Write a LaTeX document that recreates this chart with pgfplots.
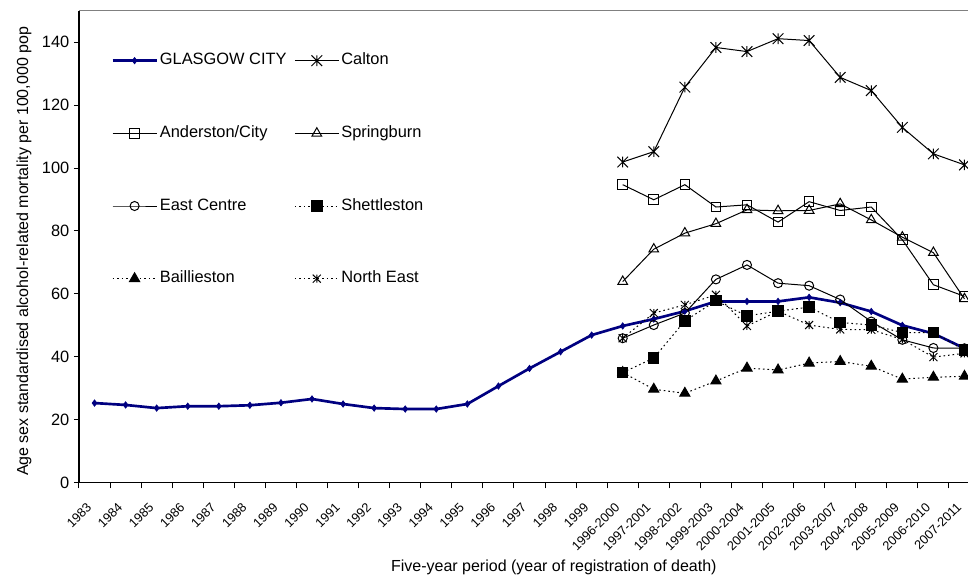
\documentclass[border=0pt]{standalone}
\usepackage{fontspec}
\setmainfont{Liberation Sans}
\usepackage{pgfplots}
\pgfplotsset{compat=1.18}
\definecolor{glasblue}{RGB}{0,0,128}
\pgfdeclareplotmark{xstar}{%
  \pgfpathmoveto{\pgfqpoint{0pt}{\pgfplotmarksize}}%
  \pgfpathlineto{\pgfqpoint{0pt}{-\pgfplotmarksize}}%
  \pgfpathmoveto{\pgfqpoint{-\pgfplotmarksize}{-\pgfplotmarksize}}%
  \pgfpathlineto{\pgfqpoint{\pgfplotmarksize}{\pgfplotmarksize}}%
  \pgfpathmoveto{\pgfqpoint{-\pgfplotmarksize}{\pgfplotmarksize}}%
  \pgfpathlineto{\pgfqpoint{\pgfplotmarksize}{-\pgfplotmarksize}}%
  \pgfusepathqstroke}
\begin{document}
\begin{tikzpicture}
\begin{axis}[name=ax,
  scale only axis, width=675.75pt, height=354pt,
  xmin=-0.5, xmax=28.5, ymin=0, ymax=150,
  axis lines*=left,
  axis line style={-, black, line width=0.75pt},
  tick align=outside,
  major tick length=3.75pt, minor tick length=4.2pt,
  tick style={black, line width=0.75pt},
  xtick={0,...,28},
  xticklabels={1983,1984,1985,1986,1987,1988,1989,1990,1991,1992,1993,1994,1995,1996,1997,1998,1999,1996-2000,1997-2001,1998-2002,1999-2003,2000-2004,2001-2005,2002-2006,2003-2007,2004-2008,2005-2009,2006-2010,2007-2011},
  major x tick style={draw=none},
  minor xtick={-0.5,0.5,...,28.5},
  ytick={0,20,...,140},
  /pgf/number format/assume math mode=true,
  xticklabel style={xshift=-6.5pt, yshift=-9pt, rotate=45, anchor=north east, inner sep=1pt, font=\fontsize{9.6}{11}\selectfont},
  yticklabel style={font=\fontsize{12.3}{14}\selectfont},
  ylabel={Age sex standardised alcohol-related mortality per 100,000 pop},
  ylabel style={font=\fontsize{12}{14}\selectfont, at={(axis description cs:-0.061,0.49)}, anchor=center},
  xlabel={Five-year period (year of registration of death)},
  xlabel style={font=\fontsize{12}{14}\selectfont, at={(axis description cs:0.527,-0.18)}, anchor=center},
  legend columns=2,
  legend cell align=left,
  legend style={draw=none, fill=none, at={(axis description cs:0.0355,0.9144)}, anchor=north west,
    font=\fontsize{12.3}{14}\selectfont, inner sep=0pt, row sep=40.5pt,
    nodes={inner sep=1pt, text height=9pt, text depth=3pt},
    /tikz/every odd column/.append style={column sep=0.5pt},
    /tikz/every even column/.append style={column sep=4.8pt}},
  legend image code/.code={\draw[mark repeat=2,mark phase=2,#1] plot coordinates {(0pt,0pt) (16.5pt,0pt) (33pt,0pt)};},
]
\addplot[glasblue, line width=2pt, mark=diamond*, mark size=2.4pt, mark options={fill=glasblue, line width=0.5pt}] coordinates {
(0,25.3) (1,24.7) (2,23.7) (3,24.3) (4,24.3) (5,24.6) (6,25.4) (7,26.6) (8,25.0) (9,23.7) (10,23.4) (11,23.4) (12,25.0) (13,30.7) (14,36.3) (15,41.6) (16,46.9) (17,49.8) (18,52.0) (19,54.5) (20,57.6) (21,57.6) (22,57.6) (23,58.9) (24,57.2) (25,54.4) (26,50.0) (27,47.4) (28,42.7)};
\addlegendentry{GLASGOW CITY}
\addplot[black, line width=0.75pt, mark=xstar, mark size=4pt] coordinates {
(17,101.9) (18,105.2) (19,125.7) (20,138.3) (21,137.0) (22,141.1) (23,140.5) (24,128.8) (25,124.6) (26,112.9) (27,104.5) (28,101.0)};
\addlegendentry{Calton}
\addplot[black, line width=0.75pt, mark=square, mark size=3.6pt, mark options={fill=white}] coordinates {
(17,94.7) (18,89.9) (19,94.7) (20,87.6) (21,88.3) (22,82.8) (23,89.3) (24,86.5) (25,87.6) (26,77.2) (27,62.9) (28,59.2)};
\addlegendentry{Anderston/City}
\addplot[black, line width=0.75pt, mark=triangle, mark size=4.2pt, mark options={fill=white}] coordinates {
(17,63.9) (18,74.2) (19,79.3) (20,82.3) (21,86.7) (22,86.4) (23,86.5) (24,88.6) (25,83.5) (26,78.0) (27,73.1) (28,58.4)};
\addlegendentry{Springburn}
\addplot[black, line width=0.75pt, mark=o, mark size=3.4pt, mark options={fill=white}] coordinates {
(17,45.9) (18,50.1) (19,53.9) (20,64.6) (21,69.2) (22,63.4) (23,62.6) (24,58.2) (25,51.2) (26,45.4) (27,42.8) (28,42.7)};
\addlegendentry{East Centre}
\addplot[black, line width=0.75pt, dash pattern=on 1.2pt off 2.2pt, mark=square*, mark size=3.9pt, mark options={solid, fill=black}] coordinates {
(17,35.0) (18,39.6) (19,51.4) (20,57.8) (21,53.0) (22,54.5) (23,55.8) (24,50.9) (25,50.1) (26,47.7) (27,47.7) (28,42.1)};
\addlegendentry{Shettleston}
\addplot[black, line width=0.75pt, dash pattern=on 1.2pt off 2.2pt, mark=triangle*, mark size=4.4pt, mark options={solid, fill=black}] coordinates {
(17,35.0) (18,29.7) (19,28.4) (20,32.3) (21,36.4) (22,35.8) (23,38.0) (24,38.5) (25,37.0) (26,32.9) (27,33.5) (28,33.8)};
\addlegendentry{Baillieston}
\addplot[black, line width=0.75pt, dash pattern=on 1.2pt off 2.2pt, mark=xstar, mark size=3pt, mark options={solid}] coordinates {
(17,45.9) (18,53.9) (19,56.5) (20,59.7) (21,49.8) (22,54.5) (23,50.1) (24,48.7) (25,48.6) (26,45.5) (27,39.9) (28,41.1)};
\addlegendentry{North East}
\end{axis}
\draw[gray, line width=0.75pt] (ax.north west) -- (ax.north east);
\draw[black, line width=0.75pt] (ax.south west) -- (ax.north west);
\pgfresetboundingbox
\path[use as bounding box] ([shift={(-59.25pt,-72.2pt)}]ax.south west) rectangle ([shift={(-9pt,8pt)}]ax.north east);
\end{tikzpicture}
\end{document}
